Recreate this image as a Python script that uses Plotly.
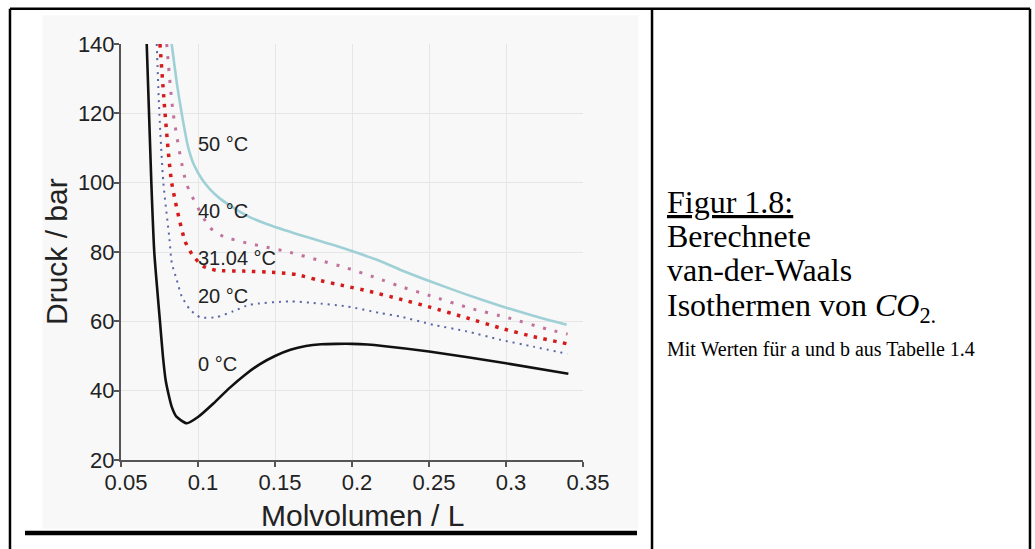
import plotly.graph_objects as go

# Van-der-Waals isotherms of CO2: molar volume (L) vs. pressure (bar)
v_0 = [0.0667, 0.0697, 0.0716, 0.0753, 0.0772, 0.0790, 0.0807, 0.0829, 0.0860, 0.0927,
       0.1000, 0.1100, 0.1200, 0.1300, 0.1400, 0.1500, 0.1600, 0.1700, 0.1800, 0.1900,
       0.2000, 0.2100, 0.2200, 0.2500, 0.3000, 0.3405]
p_0 = [140, 100, 80, 60, 50, 43, 39.3, 35.4, 32.5, 30.6,
       32.4, 36.3, 40.6, 44.4, 47.6, 50.0, 51.8, 52.9, 53.4, 53.5,
       53.5, 53.3, 52.9, 51.3, 47.9, 44.9]

v_20 = [0.0732, 0.0749, 0.0775, 0.0814, 0.0830, 0.0862, 0.0894, 0.0948, 0.1013, 0.1120,
        0.1229, 0.1338, 0.1597, 0.1749, 0.1966, 0.2182, 0.2312, 0.2528, 0.2745, 0.2961,
        0.3177, 0.3400]
p_20 = [140, 120, 100, 84, 76.8, 72, 67.2, 63.4, 61.2, 61.2,
        62.9, 64.8, 65.75, 65.3, 64.3, 62.4, 61.4, 59.0, 57.1, 54.7,
        52.7, 50.6]

v_31 = [0.0753, 0.0786, 0.0829, 0.0916, 0.0969, 0.1034, 0.1121, 0.1294, 0.1500, 0.1640,
        0.1771, 0.1944, 0.2117, 0.2312, 0.2506, 0.2745, 0.2961, 0.3177, 0.3400]
p_31 = [140, 120, 100, 83.1, 78.8, 75.9, 74.7, 74.5, 74.1, 73.5,
        72.0, 70.3, 68.6, 66.4, 64.1, 61.0, 58.1, 55.6, 53.5]

v_40 = [0.0797, 0.0839, 0.0927, 0.1078, 0.1164, 0.1316, 0.1424, 0.1597, 0.1771, 0.1944,
        0.2160, 0.2312, 0.2506, 0.2766, 0.3015, 0.3264, 0.3400]
p_40 = [140, 120, 99.5, 87, 84.5, 82.6, 81.6, 79.9, 77.8, 75.7,
        72.5, 70.1, 67.4, 63.8, 61.0, 57.8, 56.3]

v_50 = [0.0829, 0.0865, 0.0894, 0.0935, 0.0975, 0.1026, 0.1080, 0.1143, 0.1229, 0.1316,
        0.1450, 0.1620, 0.1900, 0.2182, 0.2312, 0.2528, 0.2745, 0.2961, 0.3177, 0.3394]
p_50 = [140, 128, 120, 110.4, 105, 101, 98, 95.4, 92.8, 90.5,
        88, 85.5, 81.7, 77.4, 74.9, 71.2, 67.7, 64.5, 61.6, 59.0]

label_text = ["50 °C", "40 °C", "31.04 °C", "20 °C", "0 °C"]
label_v = [0.1, 0.1, 0.1, 0.1, 0.1]
label_p = [110.5, 91.2, 77.6, 66.6, 47.0]

x_ticks = [0.05, 0.1, 0.15, 0.2, 0.25, 0.3, 0.35]
x_ticktext = ["0.05", "0.1", "0.15", "0.2", "0.25", "0.3", "0.35"]
y_ticks = [20, 40, 60, 80, 100, 120, 140]

fig = go.Figure()

series = [
    (v_0, p_0, dict(color="#111111", width=2.6)),
    (v_20, p_20, dict(color="#5a66a6", width=2, dash="2px,5px")),
    (v_31, p_31, dict(color="#d41a1a", width=3.5, dash="3.5px,6.5px")),
    (v_40, p_40, dict(color="#c0729c", width=3, dash="3px,9px")),
    (v_50, p_50, dict(color="#9fd0d6", width=2.6)),
]
for v, p, line in series:
    fig.add_trace(go.Scatter(x=v, y=p, mode="lines", line=dict(shape="spline", smoothing=0.6, **line),
                             showlegend=False, hoverinfo="skip"))

fig.add_trace(go.Scatter(x=label_v, y=label_p, mode="text", text=label_text,
                         textposition="middle right",
                         textfont=dict(family="Liberation Sans, Arial", size=20, color="#222222"),
                         showlegend=False, hoverinfo="skip", cliponaxis=False))

sans = "Liberation Sans, Arial"
axis_font = dict(family=sans, size=22, color="#222222")
title_font = dict(family=sans, size=30, color="#222222")
fig.update_xaxes(range=[0.05, 0.35], tickvals=x_ticks, ticktext=x_ticktext,
                 showgrid=True, gridcolor="#e6e6e6", gridwidth=1,
                 showline=True, linecolor="#555555", linewidth=2,
                 ticks="outside", ticklen=5, tickcolor="#555555", tickwidth=2,
                 tickfont=axis_font, zeroline=False, ticklabelshift=5, ticklabelstandoff=-3)
fig.update_yaxes(range=[20, 140], tickvals=y_ticks,
                 showgrid=True, gridcolor="#e6e6e6", gridwidth=1,
                 showline=True, linecolor="#555555", linewidth=2,
                 ticks="outside", ticklen=5, tickcolor="#555555", tickwidth=2,
                 tickfont=axis_font, zeroline=False, ticklabelstandoff=-5)

# page frame, divider and caption column
shapes = [
    dict(type="rect", xref="paper", yref="paper", x0=-0.17, x1=1.12, y0=-0.165, y1=1.069,
         fillcolor="#f8f8f8", line=dict(width=0), layer="below"),
    dict(type="line", xref="paper", yref="paper", x0=-0.2403, x1=-0.2403, y0=-0.3, y1=1.085,
         line=dict(color="black", width=2.5)),
    dict(type="line", xref="paper", yref="paper", x0=-0.2403, x1=1.9675, y0=1.085, y1=1.085,
         line=dict(color="black", width=2.5)),
    dict(type="line", xref="paper", yref="paper", x0=1.9675, x1=1.9675, y0=-0.3, y1=1.085,
         line=dict(color="black", width=2.5)),
    dict(type="line", xref="paper", yref="paper", x0=1.1494, x1=1.1494, y0=-0.3, y1=1.085,
         line=dict(color="black", width=2.5)),
    dict(type="line", xref="paper", yref="paper", x0=-0.2078, x1=1.1169, y0=-0.1755, y1=-0.1755,
         line=dict(color="black", width=4.5)),
]


def px_x(x):
    return (x - 121) / 462


def px_y(y):
    return (460 - y) / 416


annotations = [
    dict(text="Molvolumen / L", xref="paper", yref="paper", x=px_x(362), y=px_y(515),
         xanchor="center", yanchor="middle", showarrow=False, font=title_font),
    dict(text="Druck / bar", xref="paper", yref="paper", x=px_x(56), y=px_y(252),
         xanchor="center", yanchor="middle", showarrow=False, textangle=-90, font=title_font),
]

serif = "Liberation Serif, Times New Roman"
caption = [
    ("<u>Figur 1.8:</u>", 222, 32),
    ("Berechnete", 256, 32),
    ("van-der-Waals", 290, 32),
    ("Isothermen von <i>CO</i><sub>2.</sub>", 330, 32),
    ("Mit Werten für a und b aus Tabelle 1.4", 362, 20),
]
for text, base_y, size in caption:
    annotations.append(dict(text=text, xref="paper", yref="paper",
                            x=px_x(665), y=px_y(base_y),
                            xanchor="left", yanchor="bottom", showarrow=False,
                            font=dict(family=serif, size=size, color="black")))

fig.update_layout(
    width=1035, height=549,
    margin=dict(l=121, r=452, t=44, b=89),
    paper_bgcolor="white", plot_bgcolor="#f8f8f8",
    shapes=shapes, annotations=annotations,
)

fig.write_html("out.html")
